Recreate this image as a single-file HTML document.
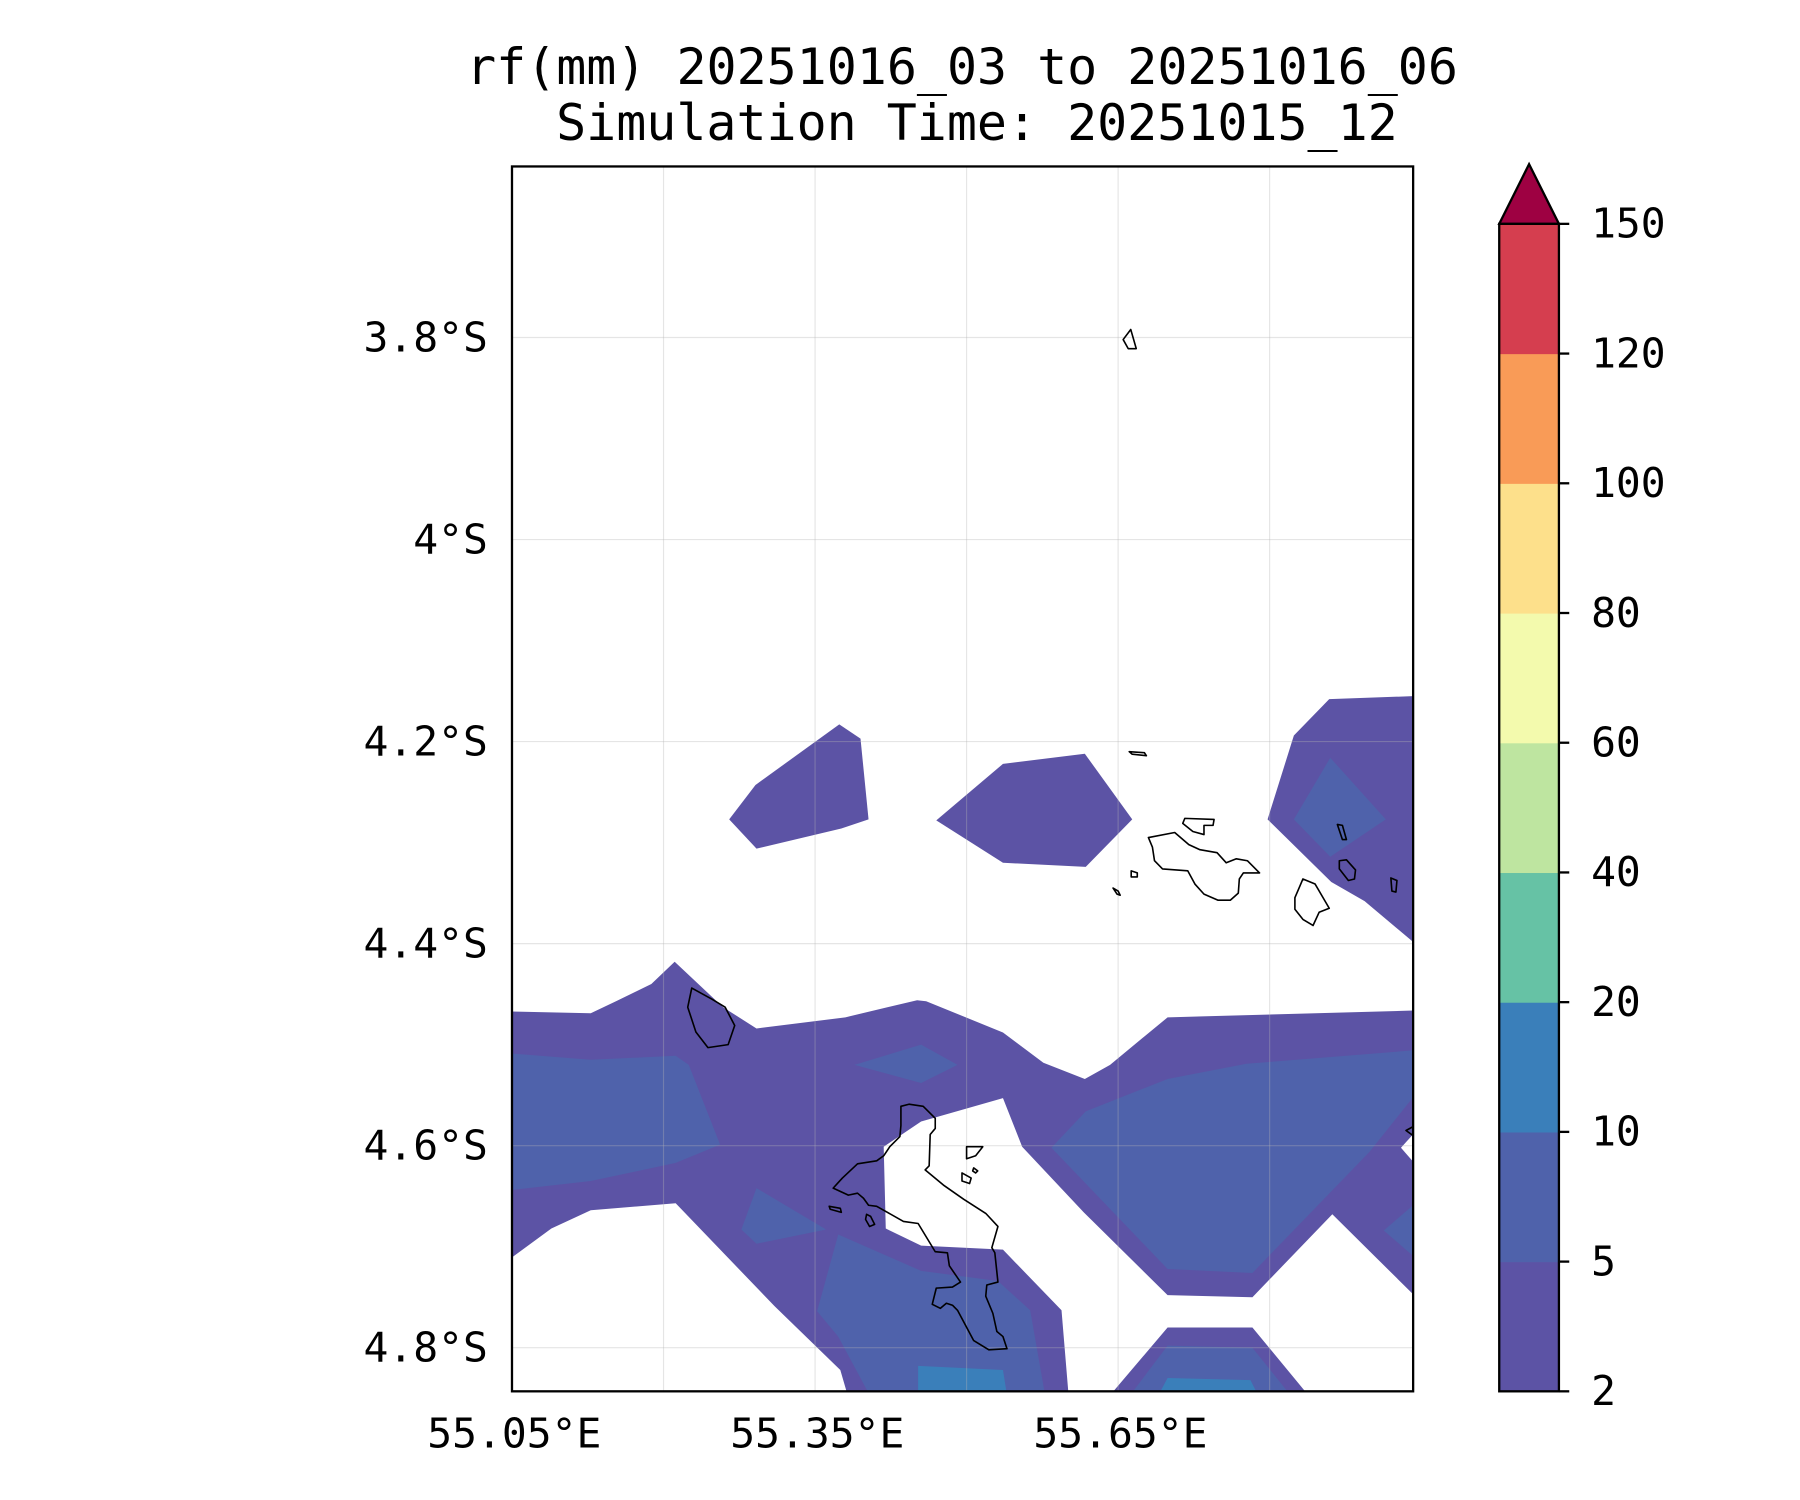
<!DOCTYPE html>
<html><head><meta charset="utf-8"><style>
html,body{margin:0;padding:0;background:#fff;}
svg{display:block;}
text{font-family:"DejaVu Sans Mono","Liberation Mono",monospace;fill:#000;}
</style></head><body>
<svg id="chart" width="1800" height="1500" viewBox="0 0 1568 1306.67" xmlns="http://www.w3.org/2000/svg">
<defs><clipPath id="plotclip"><rect x="446" y="145" width="785" height="1067"/></clipPath></defs>
<g>
<text x="838" y="73" font-size="43.5" text-anchor="middle">rf(mm) 20251016_03 to 20251016_06</text>
<text x="851" y="122" font-size="43.5" text-anchor="middle">Simulation Time: 20251015_12</text>
</g>
<g id="fills" clip-path="url(#plotclip)"></g>
<g id="grid"></g>
<g id="coast" clip-path="url(#plotclip)"></g>
<rect x="446" y="145" width="785" height="1067" fill="none" stroke="#000" stroke-width="2"/>
<g id="axes"></g>
<g id="cbar"></g>
</svg>
<script>
const lonTicks=[55.05,55.35,55.65];
const lonGrid=[55.05,55.2,55.35,55.5,55.65,55.8];
const latTicks=[3.8,4.0,4.2,4.4,4.6,4.8];
const latTickLabels=["3.8°S","4°S","4.2°S","4.4°S","4.6°S","4.8°S"];
const lonTickLabels=["55.05°E","55.35°E","55.65°E"];
const cbLevels=[2,5,10,20,40,60,80,100,120,150];
const cbColors=["#5c53a5","#4f62ab","#3a7fba","#66c2a5","#bee5a0","#f3faad","#fde08b","#f99b57","#d53e4f"];
const cbExtendColor="#9e0142";
// contour polygons [lon, lat], level index (-1 = below 2mm / white)
const contourLevels=[0,0,0,1,0,1,1,1,1,1,1,2,1,2,-1,-1,-1];
const contourPolys=[
[[55.265,4.277],[55.291,4.243],[55.374,4.183],[55.395,4.197],[55.403,4.277],[55.376,4.286],[55.292,4.306]],
[[55.470,4.278],[55.536,4.222],[55.617,4.212],[55.664,4.277],[55.618,4.324],[55.536,4.320]],
[[55.798,4.277],[55.824,4.194],[55.859,4.158],[55.942,4.155],[55.950,4.405],[55.894,4.358],[55.861,4.339]],
[[55.860,4.216],[55.915,4.277],[55.860,4.314],[55.824,4.277]],
[[55.040,4.467],[55.128,4.469],[55.153,4.457],[55.188,4.440],[55.211,4.418],[55.259,4.463],[55.292,4.484],[55.380,4.473],[55.451,4.456],[55.460,4.457],[55.536,4.488],[55.576,4.518],[55.617,4.534],[55.642,4.520],[55.699,4.473],[55.950,4.466],[55.950,4.860],[55.040,4.860]],
[[55.040,4.508],[55.128,4.515],[55.212,4.511],[55.225,4.520],[55.256,4.599],[55.212,4.617],[55.128,4.635],[55.040,4.645]],
[[55.389,4.520],[55.455,4.500],[55.491,4.520],[55.455,4.538]],
[[55.292,4.642],[55.361,4.683],[55.292,4.697],[55.277,4.683]],
[[55.584,4.602],[55.618,4.566],[55.699,4.534],[55.777,4.519],[55.950,4.505],[55.950,4.542],[55.899,4.606],[55.783,4.726],[55.699,4.722]],
[[55.950,4.652],[55.913,4.684],[55.950,4.716]],
[[55.652,4.860],[55.699,4.798],[55.783,4.800],[55.831,4.860]],
[[55.683,4.860],[55.699,4.830],[55.781,4.832],[55.795,4.860]],
[[55.352,4.764],[55.373,4.688],[55.455,4.724],[55.531,4.734],[55.563,4.763],[55.580,4.860],[55.411,4.860],[55.373,4.789]],
[[55.452,4.818],[55.536,4.822],[55.542,4.860],[55.452,4.860]],
[[55.040,4.718],[55.089,4.682],[55.128,4.664],[55.212,4.657],[55.310,4.759],[55.375,4.822],[55.386,4.860],[55.040,4.860]],
[[55.418,4.601],[55.455,4.576],[55.536,4.553],[55.555,4.601],[55.616,4.666],[55.699,4.748],[55.783,4.750],[55.862,4.668],[55.950,4.755],[55.950,4.860],[55.849,4.860],[55.783,4.780],[55.699,4.780],[55.631,4.860],[55.602,4.860],[55.594,4.763],[55.536,4.703],[55.455,4.699],[55.420,4.682]],
[[55.930,4.602],[55.950,4.580],[55.950,4.625]]
];
const coastlines=[
[[55.435,4.561],[55.443,4.559],[55.457,4.561],[55.469,4.573],[55.469,4.583],[55.464,4.589],[55.463,4.620],[55.459,4.624],[55.477,4.639],[55.497,4.653],[55.519,4.667],[55.531,4.680],[55.525,4.701],[55.528,4.706],[55.531,4.735],[55.520,4.738],[55.519,4.749],[55.526,4.766],[55.530,4.784],[55.536,4.789],[55.540,4.801],[55.522,4.802],[55.507,4.793],[55.491,4.763],[55.486,4.758],[55.480,4.756],[55.474,4.761],[55.466,4.757],[55.470,4.741],[55.486,4.740],[55.494,4.735],[55.483,4.719],[55.481,4.706],[55.469,4.705],[55.452,4.677],[55.4375,4.675],[55.411,4.660],[55.403,4.659],[55.398,4.652],[55.392,4.647],[55.383,4.649],[55.368,4.642],[55.372,4.6375],[55.377,4.632],[55.392,4.618],[55.411,4.615],[55.418,4.610],[55.424,4.601],[55.434,4.591],[55.435,4.580]],
[[55.500,4.601],[55.516,4.601],[55.509,4.610],[55.500,4.613]],
[[55.4955,4.627],[55.5045,4.632],[55.503,4.6375],[55.4955,4.635]],
[[55.507,4.622],[55.511,4.625],[55.509,4.627],[55.506,4.625]],
[[55.364,4.660],[55.375,4.662],[55.376,4.666],[55.365,4.663]],
[[55.401,4.668],[55.405,4.670],[55.409,4.678],[55.404,4.680],[55.400,4.673]],
[[55.228,4.444],[55.248,4.455],[55.261,4.463],[55.2705,4.481],[55.264,4.500],[55.244,4.503],[55.232,4.4875],[55.224,4.463]],
[[55.680,4.295],[55.706,4.290],[55.720,4.302],[55.731,4.307],[55.748,4.310],[55.757,4.320],[55.767,4.316],[55.778,4.318],[55.790,4.330],[55.774,4.330],[55.770,4.336],[55.769,4.350],[55.761,4.357],[55.749,4.357],[55.735,4.351],[55.726,4.341],[55.719,4.328],[55.694,4.326],[55.686,4.318],[55.684,4.3045]],
[[55.716,4.276],[55.745,4.277],[55.744,4.283],[55.735,4.283],[55.735,4.292],[55.724,4.289],[55.714,4.281]],
[[55.833,4.336],[55.845,4.341],[55.859,4.365],[55.849,4.369],[55.843,4.382],[55.833,4.376],[55.825,4.366],[55.825,4.3545]],
[[55.867,4.282],[55.872,4.283],[55.876,4.297],[55.872,4.297]],
[[55.869,4.318],[55.876,4.317],[55.885,4.327],[55.884,4.336],[55.878,4.3375],[55.869,4.326]],
[[55.920,4.335],[55.926,4.3375],[55.925,4.349],[55.921,4.348]],
[[55.661,4.210],[55.676,4.211],[55.678,4.214],[55.664,4.2125]],
[[55.663,4.328],[55.669,4.330],[55.669,4.334],[55.663,4.334]],
[[55.645,4.345],[55.650,4.348],[55.652,4.352],[55.649,4.351]],
[[55.655,3.802],[55.6625,3.792],[55.668,3.811],[55.660,3.811]],
[[55.935,4.585],[55.946,4.579],[55.946,4.593]]
];
const NS="http://www.w3.org/2000/svg";
const X0=446,LON0=55.05,Y0=294,LAT0=3.8,PPD=880;
function xs(lon){return X0+(lon-LON0)*PPD;}
function ys(lat){return Y0+(lat-LAT0)*PPD;}
const CB_TOP=195,CB_BOT=1212,CB_X=1306,CB_W=52;
function cby(i){return CB_BOT-i*(CB_BOT-CB_TOP)/(cbLevels.length-1);}
function mk(tag,attrs,parent){const e=document.createElementNS(NS,tag);for(const k in attrs)e.setAttribute(k,attrs[k]);parent.appendChild(e);return e;}
function pts(poly){return poly.map(p=>xs(p[0]).toFixed(1)+","+ys(p[1]).toFixed(1)).join(" ");}
const fills=document.getElementById('fills');
contourPolys.forEach((poly,i)=>{
  const lv=contourLevels[i];
  const e=mk('polygon',{points:pts(poly),fill:lv<0?'#ffffff':cbColors[lv]},fills);
  
  
});
const grid=document.getElementById('grid');
lonGrid.forEach(l=>{const e=mk('line',{x1:xs(l),x2:xs(l),y1:145,y2:1212,stroke:'rgba(180,180,180,0.35)','stroke-width':1},grid);

});
latTicks.forEach(l=>{const e=mk('line',{x1:446,x2:1231,y1:ys(l),y2:ys(l),stroke:'rgba(180,180,180,0.35)','stroke-width':1},grid);

});
const coast=document.getElementById('coast');
coastlines.forEach(poly=>{const e=mk('polygon',{points:pts(poly),fill:'none',stroke:'#000','stroke-width':1.4,'stroke-linejoin':'round'},coast);

});
const axes=document.getElementById('axes');
latTicks.forEach((l,i)=>{const t=mk('text',{x:425,y:ys(l)+12,'font-size':36,'text-anchor':'end'},axes);t.textContent=latTickLabels[i];

});
lonTicks.forEach((l,i)=>{const t=mk('text',{x:xs(l)+2,y:1261,'font-size':36,'text-anchor':'middle'},axes);t.textContent=lonTickLabels[i];

});
const cb=document.getElementById('cbar');
cbColors.forEach((c,i)=>{const r=mk('rect',{x:CB_X,y:cby(i+1),width:CB_W,height:cby(i)-cby(i+1)+0.5,fill:c},cb);

});
const tri=mk('polygon',{points:`${CB_X},${CB_TOP} ${CB_X+CB_W/2},143 ${CB_X+CB_W},${CB_TOP}`,fill:cbExtendColor,stroke:'#000','stroke-width':2},cb);


const fr=mk('rect',{x:CB_X,y:CB_TOP,width:CB_W,height:CB_BOT-CB_TOP,fill:'none',stroke:'#000','stroke-width':2},cb);


cbLevels.forEach((v,i)=>{const y=cby(i);
const tk=mk('line',{x1:CB_X+CB_W,x2:CB_X+CB_W+9,y1:y,y2:y,stroke:'#000','stroke-width':2},cb);


const t=mk('text',{x:1386,y:y+12,'font-size':36},cb);t.textContent=v;

});
</script>
</body></html>
